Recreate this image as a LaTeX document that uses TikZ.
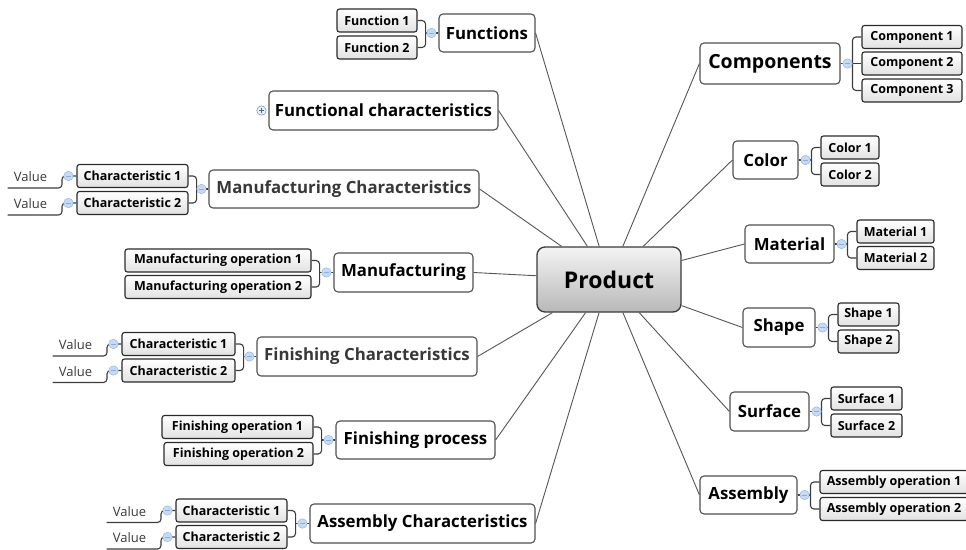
\documentclass[tikz,border=0pt]{standalone}
\usepackage{fontspec}
\setmainfont{Open Sans}

\definecolor{trunkline}{HTML}{555555}
\definecolor{branchline}{HTML}{3C3C3C}
\definecolor{topicline}{HTML}{505050}
\definecolor{subline}{HTML}{2A2A2A}
\definecolor{subfill}{HTML}{E2E2E2}
\definecolor{prodline}{HTML}{3A3A3A}
\definecolor{prodtop}{HTML}{F4F4F4}
\definecolor{prodbottom}{HTML}{B8B8B8}
\definecolor{knobfill}{HTML}{C7DAF3}
\definecolor{knobline}{HTML}{8DAEDD}
\definecolor{greytext}{HTML}{3A3A3A}
\definecolor{greytopic}{HTML}{383838}

\tikzset{
	topic/.style={draw=topicline, fill=white, line width=1.1pt, rounded corners=4pt, inner sep=0pt,
		minimum height=38pt, font=\fontsize{16.8}{20}\selectfont\bfseries},
	subtopic/.style={draw=subline, top color=white, bottom color=subfill, line width=1.1pt,
		rounded corners=2.5pt, inner sep=0pt, minimum height=23pt, font=\fontsize{12.5}{15}\selectfont\bfseries},
	valuetext/.style={inner xsep=6pt, inner ysep=6pt, text width=42pt, align=left, text height=9.5pt,
		text depth=0pt, text=greytext, font=\fontsize{13}{15}\selectfont},
	trunk/.style={draw=trunkline, line width=0.9pt},
	branch/.style={draw=branchline, line width=1.1pt, rounded corners=3.5pt},
	knob/.style={circle, fill=knobfill, draw=knobline, line width=0.4pt, minimum size=9.5pt, inner sep=0pt,
		path picture={\draw[knobline, line width=0.8pt] ([xshift=-2.2pt]path picture bounding box.center)
			-- ([xshift=2.2pt]path picture bounding box.center);}},
	knobplus/.style={fill=knobfill!45, draw=knobline!70!black,
		path picture={\draw[knobline!60!black, line width=0.8pt] ([xshift=-2.4pt]path picture bounding box.center)
			-- ([xshift=2.4pt]path picture bounding box.center)
			([yshift=-2.4pt]path picture bounding box.center) -- ([yshift=2.4pt]path picture bounding box.center);}}
}

\begin{document}
\begin{tikzpicture}[x=1pt,y=-1pt]
	\useasboundingbox (0,0) rectangle (966,549);
	\clip (0,0) rectangle (966,549);

	\node[draw=prodline, top color=prodtop, bottom color=prodbottom, line width=1.3pt, rounded corners=8pt,
		minimum width=144pt, minimum height=65pt, inner sep=0pt, font=\fontsize{23}{27}\selectfont\bfseries]
		(prod) at (609,279.5) {Product};

	\node[topic, minimum width=96pt] (func) at (487,33) {Functions};
	\node[topic, minimum width=229pt, minimum height=39pt] (funcchar) at (383.5,110.5) {Functional characteristics};
	\node[topic, minimum width=270pt, text=greytopic] (manchar) at (344,189) {Manufacturing Characteristics};
	\node[topic, minimum width=139pt, minimum height=39pt] (manuf) at (403.5,272.5) {Manufacturing};
	\node[topic, minimum width=220pt, minimum height=39pt, text=greytopic] (finchar) at (367,356.5) {Finishing Characteristics};
	\node[topic, minimum width=159pt] (finproc) at (415.5,440) {Finishing process};
	\node[topic, minimum width=225pt, minimum height=39pt] (asmchar) at (422.5,523.5) {Assembly Characteristics};

	\node[topic, minimum width=140pt, minimum height=41pt, font=\fontsize{19.5}{23}\selectfont\bfseries] (comp) at (770,63.5) {Components};
	\node[topic, minimum width=65pt] (color) at (765.5,160) {Color};
	\node[topic, minimum width=89pt] (material) at (789.5,244) {Material};
	\node[topic, minimum width=72pt, minimum height=39pt] (shape) at (779,327.5) {Shape};
	\node[topic, minimum width=79pt, minimum height=39pt] (surface) at (769.5,411.5) {Surface};
	\node[topic, minimum width=97pt] (assembly) at (748.5,495) {Assembly};

	\node[subtopic, minimum width=80pt] (f1) at (377,20.5) {Function 1};
	\node[subtopic, minimum width=80pt] (f2) at (377,47.5) {Function 2};
	\node[subtopic, minimum width=111pt] (mc1) at (132.5,176) {Characteristic 1};
	\node[subtopic, minimum width=111pt] (mc2) at (132.5,203) {Characteristic 2};
	\node[subtopic, minimum width=186pt] (mo1) at (218,260.5) {Manufacturing operation 1};
	\node[subtopic, minimum width=186pt] (mo2) at (218,287) {Manufacturing operation 2};
	\node[subtopic, minimum width=113pt] (fc1) at (178.5,344) {Characteristic 1};
	\node[subtopic, minimum width=113pt] (fc2) at (178.5,370.5) {Characteristic 2};
	\node[subtopic, minimum width=151pt] (fo1) at (237.5,427) {Finishing operation 1};
	\node[subtopic, minimum width=149pt] (fo2) at (238.5,454) {Finishing operation 2};
	\node[subtopic, minimum width=111pt] (ac1) at (231.5,510.5) {Characteristic 1};
	\node[subtopic, minimum width=111pt] (ac2) at (231.5,537) {Characteristic 2};

	\node[subtopic, minimum width=100pt] (c1) at (912,37) {Component 1};
	\node[subtopic, minimum width=100pt] (c2) at (912,63.5) {Component 2};
	\node[subtopic, minimum width=100pt] (c3) at (912,90.5) {Component 3};
	\node[subtopic, minimum width=58pt] (col1) at (850,147.5) {Color 1};
	\node[subtopic, minimum width=58pt] (col2) at (850,174.5) {Color 2};
	\node[subtopic, minimum width=77pt] (mat1) at (895.5,231.5) {Material 1};
	\node[subtopic, minimum width=77pt] (mat2) at (895.5,258) {Material 2};
	\node[subtopic, minimum width=61pt] (sh1) at (868.5,314.5) {Shape 1};
	\node[subtopic, minimum width=61pt] (sh2) at (868.5,341.5) {Shape 2};
	\node[subtopic, minimum width=71pt] (sur1) at (866.5,398.5) {Surface 1};
	\node[subtopic, minimum width=71pt] (sur2) at (866.5,425.5) {Surface 2};
	\node[subtopic, minimum width=148pt] (asm1) at (894,482) {Assembly operation 1};
	\node[subtopic, minimum width=148pt] (asm2) at (894,509) {Assembly operation 2};

	\node[valuetext, anchor=south east] (mv1) at (62,188) {Value};
	\node[valuetext, anchor=south east] (mv2) at (62,215) {Value};
	\node[valuetext, anchor=south east] (fv1) at (107,356) {Value};
	\node[valuetext, anchor=south east] (fv2) at (107,382.5) {Value};
	\node[valuetext, anchor=south east] (av1) at (161,522.5) {Value};
	\node[valuetext, anchor=south east] (av2) at (161,549) {Value};

	\foreach \t in {func,funcchar,manchar,manuf,finchar,finproc,asmchar}
		\draw[trunk] (\t.east) -- (prod);
	\foreach \t in {comp,color,material,shape,surface,assembly}
		\draw[trunk] (\t.west) -- (prod);

	\draw[branch] (f1.east) -- ++(8,0) coordinate (fvert) |- (f2.east);
	\draw[branch] (func.west) -- (func.west -| fvert);
	\draw[branch] (mc1.east) -- ++(8,0) coordinate (mcvert) |- (mc2.east);
	\draw[branch] (manchar.west) -- (manchar.west -| mcvert);
	\draw[branch] (mo1.east) -- ++(8,0) coordinate (movert) |- (mo2.east);
	\draw[branch] (manuf.west) -- (manuf.west -| movert);
	\draw[branch] (fc1.east) -- ++(8,0) coordinate (fcvert) |- (fc2.east);
	\draw[branch] (finchar.west) -- (finchar.west -| fcvert);
	\draw[branch] (fo1.east) -- ++(8,0) coordinate (fovert) |- (fo2.east);
	\draw[branch] (finproc.west) -- (finproc.west -| fovert);
	\draw[branch] (ac1.east) -- ++(8,0) coordinate (acvert) |- (ac2.east);
	\draw[branch] (asmchar.west) -- (asmchar.west -| acvert);

	\draw[branch] (c1.west) -- ++(-9,0) |- (c3.west);
	\draw[branch] (comp.east) -- (c2.west);
	\draw[branch] (col1.west) -- ++(-9,0) coordinate (colvert) |- (col2.west);
	\draw[branch] (color.east) -- (color.east -| colvert);
	\draw[branch] (mat1.west) -- ++(-9,0) coordinate (matvert) |- (mat2.west);
	\draw[branch] (material.east) -- (material.east -| matvert);
	\draw[branch] (sh1.west) -- ++(-9,0) coordinate (shvert) |- (sh2.west);
	\draw[branch] (shape.east) -- (shape.east -| shvert);
	\draw[branch] (sur1.west) -- ++(-9,0) coordinate (survert) |- (sur2.west);
	\draw[branch] (surface.east) -- (surface.east -| survert);
	\draw[branch] (asm1.west) -- ++(-9,0) coordinate (asmvert) |- (asm2.west);
	\draw[branch] (assembly.east) -- (assembly.east -| asmvert);

	\draw[branch] (mv1.south west) -- (mv1.south east) |- (mc1.west);
	\draw[branch] (mv2.south west) -- (mv2.south east) |- (mc2.west);
	\draw[branch] (fv1.south west) -- (fv1.south east) |- (fc1.west);
	\draw[branch] (fv2.south west) -- (fv2.south east) |- (fc2.west);
	\draw[branch] (av1.south west) -- (av1.south east) |- (ac1.west);
	\draw[branch] (av2.south west) -- (av2.south east) |- (ac2.west);

	\node[knob] (funck) at ([xshift=-7pt]func.west) {};
	\node[knob, knobplus] (funcchark) at ([xshift=-7pt]funcchar.west) {};
	\node[knob] (manchark) at ([xshift=-7pt]manchar.west) {};
	\node[knob] (manufk) at ([xshift=-7pt]manuf.west) {};
	\node[knob] (finchark) at ([xshift=-7pt]finchar.west) {};
	\node[knob] (finprock) at ([xshift=-7pt]finproc.west) {};
	\node[knob] (asmchark) at ([xshift=-7pt]asmchar.west) {};
	\node[knob] (mc1k) at ([xshift=-8pt]mc1.west) {};
	\node[knob] (mc2k) at ([xshift=-8pt]mc2.west) {};
	\node[knob] (fc1k) at ([xshift=-8pt]fc1.west) {};
	\node[knob] (fc2k) at ([xshift=-8pt]fc2.west) {};
	\node[knob] (ac1k) at ([xshift=-8pt]ac1.west) {};
	\node[knob] (ac2k) at ([xshift=-8pt]ac2.west) {};

	\node[knob] (compk) at ([xshift=7pt]comp.east) {};
	\node[knob] (colork) at ([xshift=7pt]color.east) {};
	\node[knob] (materialk) at ([xshift=7pt]material.east) {};
	\node[knob] (shapek) at ([xshift=7pt]shape.east) {};
	\node[knob] (surfacek) at ([xshift=7pt]surface.east) {};
	\node[knob] (assemblyk) at ([xshift=7pt]assembly.east) {};
\end{tikzpicture}
\end{document}
